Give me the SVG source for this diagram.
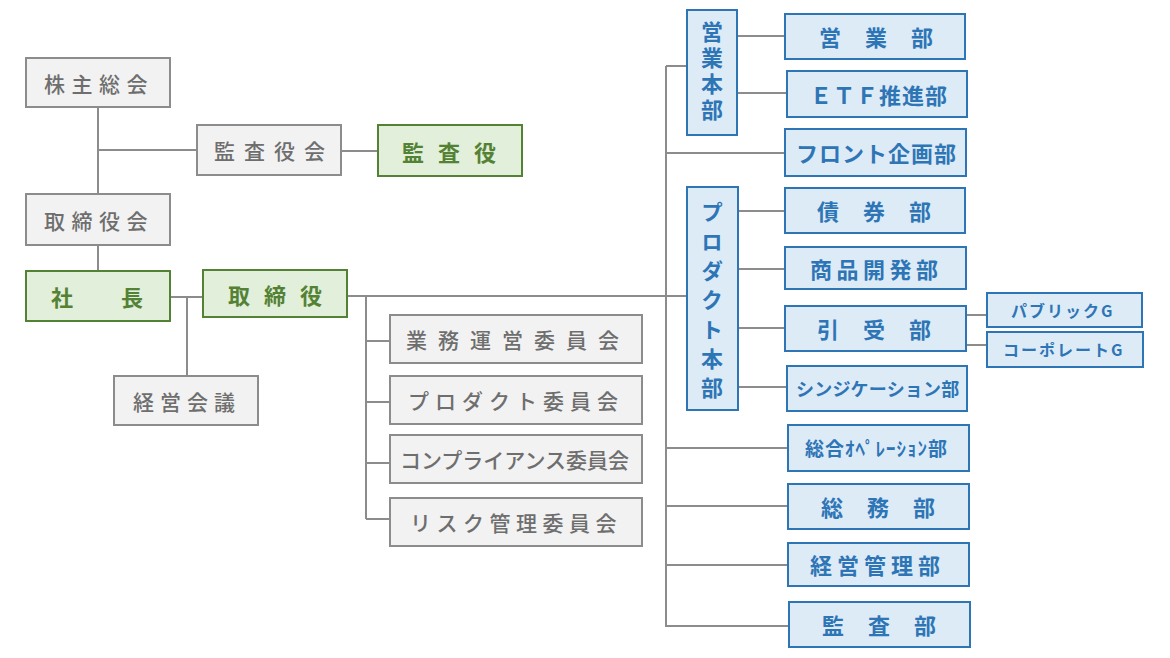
<svg xmlns="http://www.w3.org/2000/svg" width="1170" height="658" viewBox="0 0 1170 658">
<style>
text{font-family:"Noto Sans CJK JP","Noto Sans",sans-serif;dominant-baseline:central}
.g rect{fill:#f2f2f2;stroke:#8c8c8c;stroke-width:2}
.g text{fill:#6e6e6e;font-size:21px;font-weight:500}
.gr rect{fill:#e2efda;stroke:#548235;stroke-width:2}
.gr text{fill:#548235;font-size:22px;font-weight:700}
.b rect{fill:#ddebf7;stroke:#2e75b6;stroke-width:2}
.b text{fill:#2e75b6;font-size:22px;font-weight:700}
.b text.v{writing-mode:vertical-rl;text-orientation:upright;dominant-baseline:auto}
#connectors path{fill:none;stroke:#8c8c8c;stroke-width:2}
</style>
<rect width="1170" height="658" fill="#fff"/>
<g id="connectors">
<path d="M98 107V194M98 150H197M341 151H378M98 245V271M170 297H203M187 297V376"/>
<path d="M347 296H687M366 296V519M366 341H390M366 402H390M366 463H390M366 519H390"/>
<path d="M666 66V626H789M666 66H687M737 36H785M737 93H787M666 153H785"/>
<path d="M738 211H785M738 269H785M738 328H785M738 387H787M966 315H987M966 345H987"/>
<path d="M666 448H788M666 506H788M666 565H788"/>
</g>
<g id="n-kabunushi" class="g"><rect x="26" y="58" width="144" height="49"/><text x="44" y="83" letter-spacing="6.5">株主総会</text></g>
<g id="n-kansayakukai" class="g"><rect x="197" y="125" width="144" height="50"/><text x="214" y="150" letter-spacing="9">監査役会</text></g>
<g id="n-kansayaku" class="gr"><rect x="378" y="125" width="144" height="51"/><text x="402" y="151" letter-spacing="14">監査役</text></g>
<g id="n-torishimariyakukai" class="g"><rect x="26" y="194" width="144" height="51"/><text x="44" y="219.5" letter-spacing="6.5">取締役会</text></g>
<g id="n-shacho" class="gr"><rect x="26" y="271" width="144" height="50"/><text x="51" y="296" letter-spacing="13">社　長</text></g>
<g id="n-torishimariyaku" class="gr"><rect x="203" y="270" width="144" height="47"/><text x="228" y="293.5" letter-spacing="14">取締役</text></g>
<g id="n-keieikaigi" class="g"><rect x="114" y="376" width="144" height="49"/><text x="133" y="400.5" letter-spacing="6">経営会議</text></g>
<g id="n-gyomu" class="g"><rect x="390" y="315" width="252" height="48"/><text x="406" y="339" letter-spacing="11">業務運営委員会</text></g>
<g id="n-product-c" class="g"><rect x="390" y="376" width="252" height="48"/><text x="408" y="400" letter-spacing="6">プロダクト委員会</text></g>
<g id="n-compliance" class="g"><rect x="390" y="435" width="252" height="48"/><text x="400" y="459" letter-spacing="0">コンプライアンス委員会</text></g>
<g id="n-risk" class="g"><rect x="390" y="498" width="252" height="48"/><text x="410" y="522" letter-spacing="5.5">リスク管理委員会</text></g>
<g id="n-eigyohonbu" class="b"><rect x="687" y="10" width="50" height="125"/><text class="v" x="712" y="21" letter-spacing="4">営業本部</text></g>
<g id="n-eigyobu" class="b"><rect x="785" y="14" width="180" height="45"/><text x="819" y="36" letter-spacing="24">営業部</text></g>
<g id="n-etf" class="b"><rect x="787" y="71" width="180" height="46"/><text x="810" y="93.5" letter-spacing="1">ＥＴＦ推進部</text></g>
<g id="n-front" class="b"><rect x="785" y="129" width="181" height="47"/><text x="796" y="152" letter-spacing="1">フロント企画部</text></g>
<g id="n-producthonbu" class="b"><rect x="687" y="187" width="51" height="223"/><text class="v" x="712" y="201" letter-spacing="7.3">プロダクト本部</text></g>
<g id="n-saiken" class="b"><rect x="785" y="188" width="180" height="45"/><text x="817" y="210" letter-spacing="24">債券部</text></g>
<g id="n-shohin" class="b"><rect x="785" y="247" width="181" height="42"/><text x="810" y="267.5" letter-spacing="4.5">商品開発部</text></g>
<g id="n-hikiuke" class="b"><rect x="785" y="306" width="181" height="45"/><text x="817" y="328" letter-spacing="24">引受部</text></g>
<g id="n-public" class="b"><rect x="987" y="293" width="155" height="34"/><text x="1011" y="309.5" style="font-size:16px" letter-spacing="2">パブリックG</text></g>
<g id="n-corporate" class="b"><rect x="987" y="332" width="156" height="35"/><text x="1003" y="349" style="font-size:16px" letter-spacing="2">コーポレートG</text></g>
<g id="n-syndication" class="b"><rect x="787" y="366" width="180" height="45"/><text x="796" y="388" style="font-size:18px" letter-spacing="0.2">シンジケーション部</text></g>
<g id="n-sogoope" class="b"><rect x="788" y="425" width="181" height="46"/><text x="805" y="447.5" style="font-size:19px" letter-spacing="1">総合ｵﾍﾟﾚｰｼｮﾝ部</text></g>
<g id="n-somu" class="b"><rect x="788" y="484" width="181" height="45"/><text x="821" y="506" letter-spacing="24">総務部</text></g>
<g id="n-keieikanri" class="b"><rect x="788" y="543" width="181" height="43"/><text x="810" y="564" letter-spacing="5">経営管理部</text></g>
<g id="n-kansabu" class="b"><rect x="789" y="602" width="181" height="45"/><text x="822" y="624" letter-spacing="24">監査部</text></g>
</svg>
